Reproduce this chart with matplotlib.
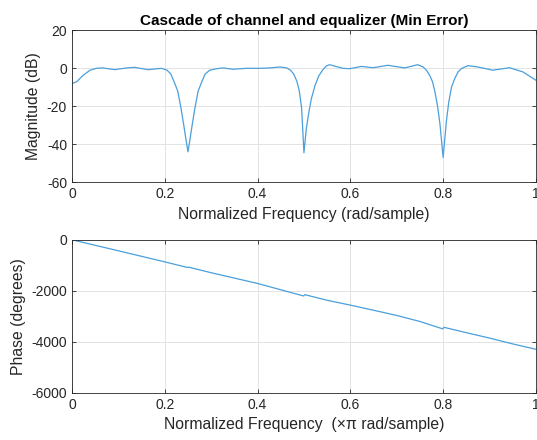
import matplotlib
matplotlib.use("Agg")
import matplotlib.pyplot as plt

# magnitude response
freq_mag = [0.0, 0.010, 0.024, 0.039, 0.053, 0.067, 0.092, 0.118, 0.135, 0.164,
            0.193, 0.205, 0.213, 0.220, 0.228, 0.235, 0.241, 0.246, 0.250,
            0.254, 0.259, 0.265, 0.272, 0.280, 0.287, 0.297, 0.312, 0.326,
            0.347, 0.376, 0.405, 0.427, 0.448, 0.463, 0.471, 0.478, 0.485,
            0.490, 0.495, 0.500, 0.505, 0.510, 0.516, 0.524, 0.532, 0.540,
            0.548, 0.555, 0.584, 0.599, 0.624, 0.649, 0.681, 0.717, 0.745,
            0.757, 0.764, 0.771, 0.777, 0.782, 0.788, 0.793, 0.800, 0.807,
            0.812, 0.818, 0.825, 0.832, 0.839, 0.846, 0.853, 0.875, 0.907,
            0.943, 0.972, 1.0]
mag_db = [-8.0, -7.1, -3.7, -1.0, 0.0, 0.2, -0.7, 0.2, 0.5, -0.7,
          0.0, -1.0, -3.0, -7.0, -12.0, -21.0, -30.0, -38.0, -44.0,
          -38.0, -30.0, -21.0, -12.0, -7.0, -3.0, -1.0, -0.2, 0.2,
          -0.5, 0.0, 0.0, 0.2, 0.7, 0.2, -1.0, -3.0, -7.0,
          -12.0, -21.0, -44.5, -32.0, -24.0, -16.0, -9.0, -4.0, -1.0,
          1.2, 1.9, 0.0, -0.2, 1.0, 0.3, 1.6, 0.2, 1.9,
          0.7, -1.0, -3.7, -7.0, -12.0, -20.0, -29.0, -47.0, -28.0,
          -18.0, -10.0, -5.4, -2.0, -0.2, 0.6, 1.4, 0.7, -1.0,
          0.3, -1.9, -6.3]

# phase response
freq_ph = [0.0, 0.1, 0.2, 0.249, 0.251, 0.3, 0.4, 0.499, 0.502, 0.55,
           0.6, 0.65, 0.7, 0.75, 0.799, 0.802, 0.85, 0.9, 0.95, 1.0]
phase_deg = [0, -430, -865, -1085, -1070, -1290, -1710, -2200, -2150, -2370,
             -2560, -2760, -2965, -3200, -3490, -3430, -3640, -3850, -4080, -4290]

plt.rcParams['font.family'] = ['Liberation Sans', 'DejaVu Sans']
plt.rcParams['axes.unicode_minus'] = False

line_col = '#4a9fdc'
ax_col = '#262626'

fig = plt.figure(figsize=(5.37, 4.4), dpi=100)
ax1 = fig.add_axes([0.134, 0.586, 0.864, 0.345])
ax2 = fig.add_axes([0.134, 0.107, 0.864, 0.348])

for ax in (ax1, ax2):
    ax.grid(True, color='#e3e3e3', linewidth=0.7)
    ax.set_axisbelow(True)
    ax.tick_params(direction='in', length=3, top=True, right=True,
                   labelsize=10, colors=ax_col, width=0.6)
    for s in ax.spines.values():
        s.set_color(ax_col)
        s.set_linewidth(0.6)
    ax.set_xlim(0, 1)
    ax.set_xticks([0, 0.2, 0.4, 0.6, 0.8, 1])
    ax.set_xticklabels(['0', '0.2', '0.4', '0.6', '0.8', '1'])

ax1.plot(freq_mag, mag_db, color=line_col, linewidth=0.9)
ax1.set_ylim(-60, 20)
ax1.set_yticks([-60, -40, -20, 0, 20])
ax1.set_ylabel('Magnitude (dB)', fontsize=11.3, color=ax_col)
ax1.set_xlabel('Normalized Frequency (rad/sample)', fontsize=11.3, color=ax_col)
ax1.set_title('Cascade of channel and equalizer (Min Error)', fontsize=11,
              fontweight='bold', color='black', pad=4)

ax2.plot(freq_ph, phase_deg, color=line_col, linewidth=0.9)
ax2.set_ylim(-6000, 0)
ax2.set_yticks([-6000, -4000, -2000, 0])
ax2.set_ylabel('Phase (degrees)', fontsize=11.3, color=ax_col)
ax2.set_xlabel('Normalized Frequency  (\u00d7\u03c0 rad/sample)', fontsize=11.3, color=ax_col)

fig.savefig('out.png', dpi=100)
